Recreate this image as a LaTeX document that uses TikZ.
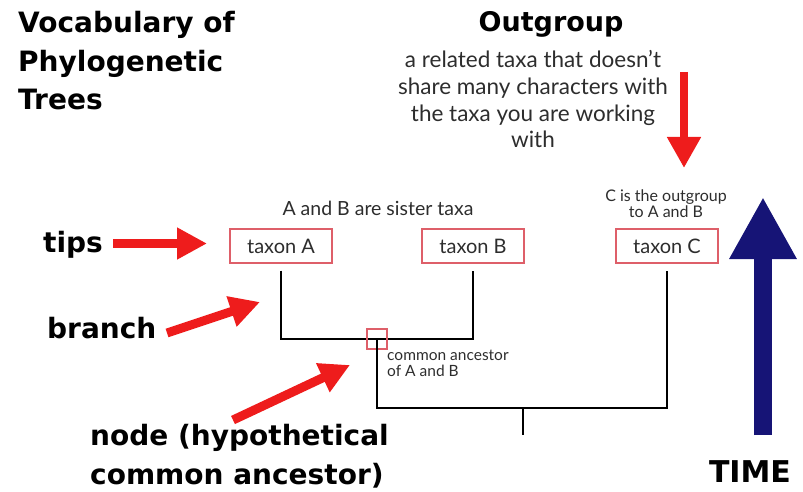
\documentclass[tikz,border=0pt]{standalone}
\usepackage{fontspec}
\setmainfont{Lato}
\newfontfamily\hdfont{DejaVu Sans}
\usetikzlibrary{arrows.meta}
\definecolor{arrowred}{RGB}{238,28,28}
\definecolor{boxred}{RGB}{222,95,105}
\definecolor{navyarrow}{RGB}{22,20,118}
\definecolor{txtgray}{RGB}{45,45,45}
\begin{document}
\begin{tikzpicture}[x=1pt,y=-1pt,
  taxonbox/.style={draw=boxred, line width=1.3pt, minimum width=102pt, minimum height=34pt, inner sep=0pt, font=\fontsize{20}{22}\selectfont, text=txtgray},
  branchline/.style={line width=2.6pt, black},
  redarrow/.style={arrowred, line width=9pt, -{Triangle[length=30pt,width=30pt]}},
  hd/.style={font=\hdfont\bfseries\fontsize{28}{38.5}\selectfont, inner sep=0pt},
  small/.style={text=txtgray, inner sep=0pt}]
\useasboundingbox (0,0) rectangle (803,492);

% headings (multi-line nodes: base anchor = baseline of last line)
\node[hd, anchor=base west, align=left] (title) at (18,110) {Vocabulary of\\Phylogenetic\\Trees};
\node[hd, font=\hdfont\bfseries\fontsize{27}{30}\selectfont, anchor=base] (outgroup) at (551,32) {Outgroup};
\node[small, anchor=base, align=center, font=\fontsize{22.5}{27}\selectfont] (outdesc) at (533,148) {a related taxa that doesn’t\\share many characters with\\the taxa you are working\\with};
\node[hd, anchor=base west] (tips) at (43,252) {tips};
\node[hd, anchor=base west] (branch) at (47,338) {branch};
\node[hd, anchor=base west, align=left] (nodelabel) at (90,484) {node (hypothetical\\common ancestor)};
\node[hd, font=\hdfont\bfseries\fontsize{30}{34}\selectfont, anchor=base] (time) at (750,482) {TIME};

% taxa
\node[taxonbox] (A) at (281,246) {taxon A};
\node[taxonbox] (B) at (473,246) {taxon B};
\node[taxonbox] (C) at (667,246) {taxon C};
\node[small, anchor=base, font=\fontsize{19.5}{22}\selectfont] (sister) at (378,215) {A and B are sister taxa};
\node[small, anchor=base, align=center, font=\fontsize{16}{16}\selectfont] (outC) at (666,217) {C is the outgroup\\to A and B};

% tree
\coordinate (root) at (523,408);
\coordinate (rootend) at (523,435);
\draw[branchline] ([yshift=-7pt]A.south) |- (377,339) -| ([yshift=-7pt]B.south);
\node[draw=boxred, line width=1.3pt, minimum size=20pt, inner sep=0pt] (ancAB) at (377,339) {};
\draw[branchline] (ancAB.center) |- (root) -| ([yshift=-7pt]C.south);
\draw[branchline] (root) -- (rootend);
\node[small, anchor=base west, align=left, font=\fontsize{15.5}{15.5}\selectfont] (anclabel) at (387,376) {common ancestor\\of A and B};

% red arrows
\coordinate (tipsS) at (113,243.5);
\coordinate (tipsE) at (207,243.5);
\coordinate (branchS) at (167,333);
\coordinate (branchE) at (260,302);
\coordinate (nodeS) at (233,420);
\coordinate (nodeE) at (350,365);
\coordinate (outS) at (684,72);
\coordinate (outE) at (684,168);
\draw[redarrow] (tipsS) -- (tipsE);
\draw[redarrow] (branchS) -- (branchE);
\draw[redarrow] (nodeS) -- (nodeE);
\draw[arrowred, line width=8pt, -{Triangle[length=31pt,width=32pt]}] (outS) -- (outE);

% time arrow
\coordinate (timeS) at (763,435);
\coordinate (timeE) at (763,197);
\draw[navyarrow, line width=18pt, -{Triangle[length=62pt,width=63pt]}] (timeS) -- (timeE);
\end{tikzpicture}
\end{document}
